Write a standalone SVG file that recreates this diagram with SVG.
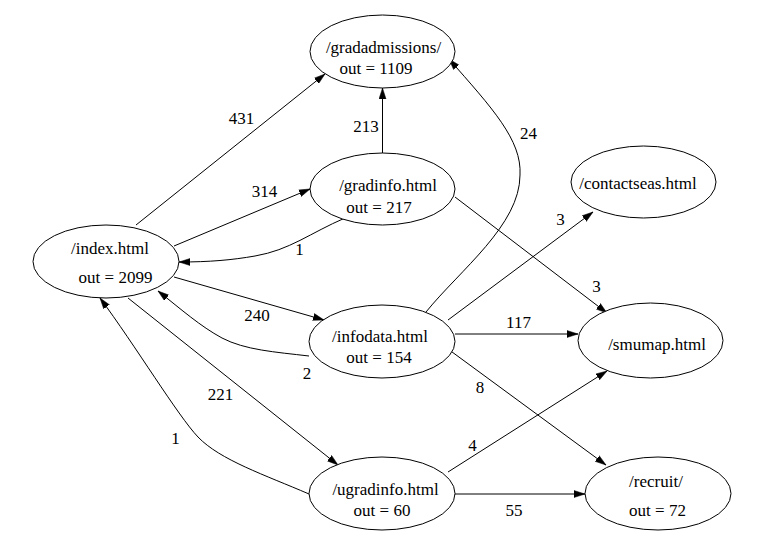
<svg xmlns="http://www.w3.org/2000/svg" width="770" height="560" viewBox="0 0 770 560">
<style>
.n ellipse{fill:#fff;stroke:#000;stroke-width:1}
text{font-family:'Liberation Serif','Times New Roman',Times,'DejaVu Serif',serif;font-size:17px;fill:#000;text-anchor:middle}
.e path{fill:none;stroke:#000;stroke-width:1;marker-end:url(#ah)}
</style>
<defs>
<marker id="ah" markerUnits="userSpaceOnUse" markerWidth="12" markerHeight="8" refX="11" refY="4" orient="auto">
<path d="M0,0.5 L11,4 L0,7.5 z" fill="#000" stroke="#000" stroke-width="0.5"/>
</marker>
</defs>
<rect width="770" height="560" fill="#fff"/>
<g id="edges" class="e">
<path d="M136,225 L325,74"/>
<path d="M382.5,153 L382.5,88"/>
<path d="M174,246 L310,189"/>
<path d="M345,218 C310,233 290,250 255,256 C232,260 210,262 179,262"/>
<path d="M174,277 L324,320"/>
<path d="M309,356 C275,352 245,350 222,338 C200,326 182,310 158,291"/>
<path d="M128,298 L338,465"/>
<path d="M309,494 C265,475 220,460 198,437 C178,416 135,345 100,298"/>
<path d="M426,312 C460,270 520,225 520,175 C522,140 492,108 449,59"/>
<path d="M448,320 L593,212"/>
<path d="M455,197 L607,313"/>
<path d="M455,334 L578,334"/>
<path d="M448,349 L606,465"/>
<path d="M448,472 L607,371"/>
<path d="M455,494 L585,494"/>
</g>
<g id="edge-labels" font-family="Liberation Serif, serif">
<text x="241.5" y="124">431</text>
<text x="366" y="132">213</text>
<text x="264.5" y="197">314</text>
<text x="299.5" y="255">1</text>
<text x="528.5" y="139">24</text>
<text x="560.5" y="225">3</text>
<text x="596.5" y="292">3</text>
<text x="518.5" y="328">117</text>
<text x="480" y="393">8</text>
<text x="257" y="321">240</text>
<text x="307" y="379">2</text>
<text x="220.5" y="400">221</text>
<text x="175.5" y="444">1</text>
<text x="472.5" y="451">4</text>
<text x="514" y="516">55</text>
</g>
<g id="gradadmissions" class="n">
<ellipse cx="382.5" cy="51.5" rx="72.5" ry="36.5"/>
<text x="383.5" y="52.5">/gradadmissions/</text>
<text x="376" y="74">out = 1109</text>
</g>
<g id="gradinfo" class="n">
<ellipse cx="382.5" cy="189" rx="72.5" ry="36"/>
<text x="388" y="190.5">/gradinfo.html</text>
<text x="379" y="212.5">out = 217</text>
</g>
<g id="index" class="n">
<ellipse cx="106" cy="261.5" rx="73" ry="36.5"/>
<text x="110" y="254">/index.html</text>
<text x="115.5" y="283">out = 2099</text>
</g>
<g id="infodata" class="n">
<ellipse cx="382" cy="341.5" rx="73" ry="36.5"/>
<text x="380" y="342">/infodata.html</text>
<text x="379" y="363">out = 154</text>
</g>
<g id="ugradinfo" class="n">
<ellipse cx="382" cy="493.5" rx="73" ry="36.5"/>
<text x="385.5" y="495">/ugradinfo.html</text>
<text x="382" y="516">out = 60</text>
</g>
<g id="contactseas" class="n">
<ellipse cx="643.5" cy="182" rx="72.5" ry="36"/>
<text x="638" y="189">/contactseas.html</text>
</g>
<g id="smumap" class="n">
<ellipse cx="650.5" cy="340.5" rx="72.5" ry="37.5"/>
<text x="657" y="350">/smumap.html</text>
</g>
<g id="recruit" class="n">
<ellipse cx="658" cy="493.5" rx="73" ry="36.5"/>
<text x="656" y="487">/recruit/</text>
<text x="657.5" y="516">out = 72</text>
</g>
</svg>
